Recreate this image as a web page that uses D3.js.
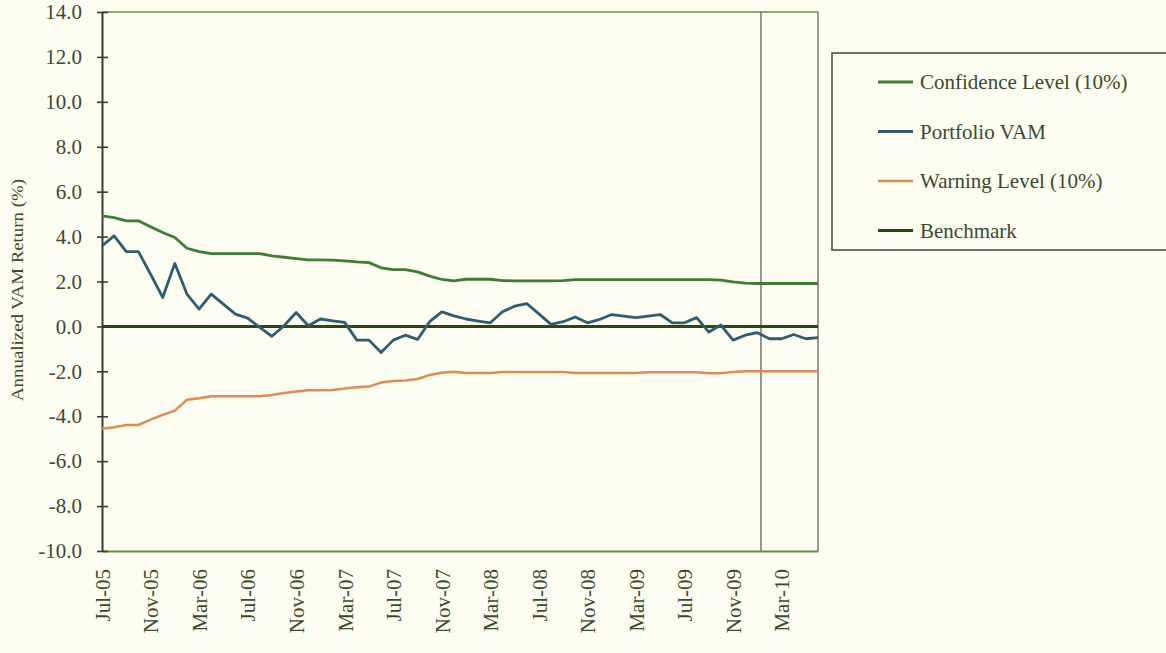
<!DOCTYPE html>
<html>
<head>
<meta charset="utf-8">
<script src="https://cdn.jsdelivr.net/npm/d3@7"></script>
<style>
    body { margin: 0; background: #fdfdf2; }
    svg { display: block; font-family: "Liberation Serif", "DejaVu Serif", serif; }
</style>
</head>
<body>
<div id="canvas"></div>
<script>
// monthly observations, Jul-05 .. Jun-10
const months = [
    "Jul-05", "Aug-05", "Sep-05", "Oct-05", "Nov-05", "Dec-05", "Jan-06", "Feb-06", "Mar-06", "Apr-06",
    "May-06", "Jun-06", "Jul-06", "Aug-06", "Sep-06", "Oct-06", "Nov-06", "Dec-06", "Jan-07", "Feb-07",
    "Mar-07", "Apr-07", "May-07", "Jun-07", "Jul-07", "Aug-07", "Sep-07", "Oct-07", "Nov-07", "Dec-07",
    "Jan-08", "Feb-08", "Mar-08", "Apr-08", "May-08", "Jun-08", "Jul-08", "Aug-08", "Sep-08", "Oct-08",
    "Nov-08", "Dec-08", "Jan-09", "Feb-09", "Mar-09", "Apr-09", "May-09", "Jun-09", "Jul-09", "Aug-09",
    "Sep-09", "Oct-09", "Nov-09", "Dec-09", "Jan-10", "Feb-10", "Mar-10", "Apr-10", "May-10", "Jun-10"
];

const confidence = [
    4.92, 4.84, 4.70, 4.70, 4.44, 4.18, 3.96, 3.48, 3.33, 3.24,
    3.24, 3.24, 3.24, 3.24, 3.14, 3.08, 3.02, 2.96, 2.96, 2.95,
    2.92, 2.87, 2.84, 2.61, 2.53, 2.53, 2.43, 2.24, 2.09, 2.03,
    2.10, 2.11, 2.10, 2.04, 2.03, 2.03, 2.03, 2.03, 2.04, 2.08,
    2.08, 2.08, 2.08, 2.08, 2.08, 2.08, 2.08, 2.08, 2.08, 2.08,
    2.08, 2.06, 1.98, 1.93, 1.91, 1.91, 1.91, 1.91, 1.91, 1.91
];

const portfolio = [
    3.59, 4.03, 3.33, 3.33, 2.33, 1.29, 2.80, 1.44, 0.77, 1.44,
    0.99, 0.55, 0.37, -0.04, -0.44, 0.03, 0.62, 0.03, 0.33, 0.25,
    0.18, -0.61, -0.61, -1.16, -0.61, -0.39, -0.58, 0.21, 0.65, 0.47,
    0.33, 0.24, 0.16, 0.65, 0.90, 1.02, 0.56, 0.09, 0.21, 0.42,
    0.16, 0.31, 0.53, 0.46, 0.39, 0.46, 0.53, 0.16, 0.16, 0.39,
    -0.25, 0.06, -0.61, -0.39, -0.28, -0.55, -0.55, -0.36, -0.55, -0.50
];

const warning = [
    -4.56, -4.49, -4.39, -4.39, -4.15, -3.94, -3.75, -3.27, -3.20, -3.11,
    -3.11, -3.11, -3.11, -3.11, -3.05, -2.96, -2.90, -2.84, -2.84, -2.83,
    -2.76, -2.71, -2.68, -2.50, -2.43, -2.41, -2.34, -2.16, -2.06, -2.02,
    -2.07, -2.07, -2.07, -2.03, -2.03, -2.03, -2.03, -2.03, -2.03, -2.07,
    -2.07, -2.07, -2.07, -2.07, -2.07, -2.04, -2.04, -2.04, -2.04, -2.04,
    -2.08, -2.08, -2.03, -2.00, -2.00, -2.00, -2.00, -2.00, -2.00, -2.00
];

const benchmark = [
    0, 0, 0, 0, 0, 0, 0, 0, 0, 0,
    0, 0, 0, 0, 0, 0, 0, 0, 0, 0,
    0, 0, 0, 0, 0, 0, 0, 0, 0, 0,
    0, 0, 0, 0, 0, 0, 0, 0, 0, 0,
    0, 0, 0, 0, 0, 0, 0, 0, 0, 0,
    0, 0, 0, 0, 0, 0, 0, 0, 0, 0
];

const xTickLabels = ["Jul-05", "Nov-05", "Mar-06", "Jul-06", "Nov-06", "Mar-07", "Jul-07", "Nov-07",
    "Mar-08", "Jul-08", "Nov-08", "Mar-09", "Jul-09", "Nov-09", "Mar-10"];
const yTicks = [-10, -8, -6, -4, -2, 0, 2, 4, 6, 8, 10, 12, 14];
const splitMonth = "Jan-10";

const seriesNames = ["Confidence Level (10%)", "Portfolio VAM", "Warning Level (10%)", "Benchmark"];
const seriesValues = [confidence, portfolio, warning, benchmark];
const seriesColors = ["#3c7d32", "#2f5d70", "#de8a52", "#2c4812"];
const seriesWidths = [2.8, 2.8, 2.5, 3];

let width = 1166;
let height = 653;
let margin = { top: 12, left: 102, bottom: 102, right: 348 };
let iwidth = width - margin.left - margin.right;
let iheight = height - margin.top - margin.bottom;

let svg = d3.select("#canvas").append("svg")
    .attr("width", width)
    .attr("height", height);

let g = svg.append("g").attr("transform", `translate(${margin.left},${margin.top})`);

let x = d3.scalePoint()
    .domain(months)
    .range([0, iwidth]);

let y = d3.scaleLinear()
    .domain([-10, 14])
    .range([iheight, 0]);

// plot frame: green top/bottom, grey right edge
g.append("line").attr("x1", 0).attr("x2", iwidth).attr("y1", 0).attr("y2", 0)
    .attr("stroke", "#5f9236").attr("stroke-width", 1.6);
g.append("line").attr("x1", iwidth).attr("x2", iwidth).attr("y1", 0).attr("y2", iheight)
    .attr("stroke", "#6b6b66").attr("stroke-width", 1.4);

// vertical split line, a little past the start of Jan-10
g.append("line")
    .attr("x1", x(splitMonth) + x.step() * 0.3).attr("x2", x(splitMonth) + x.step() * 0.3)
    .attr("y1", 0).attr("y2", iheight)
    .attr("stroke", "#6b6b66").attr("stroke-width", 1.4);

// x axis
let xAxis = g.append("g")
    .attr("transform", `translate(0, ${iheight})`)
    .call(d3.axisBottom(x).tickValues(xTickLabels).tickSize(0).tickPadding(0));
xAxis.select(".domain").attr("stroke", "#5f9236").attr("stroke-width", 1.8);
xAxis.selectAll("text")
    .attr("transform", "rotate(-90)")
    .attr("x", -18)
    .attr("y", 0)
    .attr("dy", "0.35em")
    .style("text-anchor", "end")
    .style("font-size", "21px")
    .style("font-family", "Liberation Serif, serif")
    .attr("fill", "#3c4a2a");

// y axis with crossing ticks
let yAxis = g.append("g")
    .call(d3.axisLeft(y).tickValues(yTicks).tickFormat(d3.format(".1f")).tickSizeInner(5).tickSizeOuter(0).tickPadding(15));
yAxis.select(".domain").attr("stroke", "#3a3d33").attr("stroke-width", 2);
yAxis.selectAll(".tick line").attr("x2", -5).attr("x1", 6).attr("stroke", "#3a3d33").attr("stroke-width", 1.6);
yAxis.selectAll("text")
    .text(d => d3.format(".1f")(d).replace("−", "-"))
    .style("font-size", "21px")
    .style("font-family", "Liberation Serif, serif")
    .attr("fill", "#3c4a2a");

svg.append("text")
    .attr("transform", `translate(23, 290) rotate(-90)`)
    .attr("text-anchor", "middle")
    .attr("textLength", 222)
    .attr("lengthAdjust", "spacingAndGlyphs")
    .style("font-size", "17px")
    .attr("fill", "#3c4a2a")
    .text("Annualized VAM Return (%)");

// series lines, drawn so the benchmark sits on top like the reference
let line = d3.line()
    .x((d, i) => x(months[i]))
    .y(d => y(d));

let drawOrder = [2, 0, 3, 1];
drawOrder.forEach(k => {
    g.append("path")
        .datum(seriesValues[k])
        .attr("fill", "none")
        .attr("stroke", seriesColors[k])
        .attr("stroke-width", seriesWidths[k])
        .attr("stroke-linejoin", "round")
        .attr("d", line);
});

// legend
let legend = svg.append("g").attr("transform", "translate(832, 53)");
legend.append("rect")
    .attr("width", 345)
    .attr("height", 197)
    .attr("fill", "#fdfdf2")
    .attr("stroke", "#4a5040")
    .attr("stroke-width", 1.6);

let items = legend.selectAll(".item").data(seriesNames).enter().append("g")
    .attr("class", "item")
    .attr("transform", (d, i) => `translate(0, ${29 + i * 49.5})`);
items.append("line")
    .attr("x1", 46).attr("x2", 81)
    .attr("stroke", (d, i) => seriesColors[i])
    .attr("stroke-width", (d, i) => seriesWidths[i]);
items.append("text")
    .attr("x", 88)
    .attr("dy", "0.35em")
    .style("font-size", "21px")
    .attr("fill", "#3c4a2a")
    .text(d => d);
</script>
</body>
</html>
